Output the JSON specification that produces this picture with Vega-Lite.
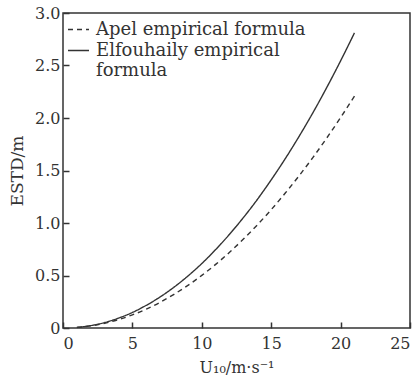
{
  "$schema": "https://vega.github.io/schema/vega-lite/v6.json",
  "width": 347,
  "height": 315,
  "autosize": {"type": "none"},
  "padding": {"left": 63, "top": 13, "right": 9, "bottom": 51},
  "background": "white",
  "config": {
    "font": "DejaVu Serif",
    "view": {"stroke": "#333", "strokeWidth": 1.5}
  },
  "data": {
    "values": [
      {"u": 1, "v": 0.005, "s": "Apel empirical formula"},
      {"u": 2, "v": 0.020, "s": "Apel empirical formula"},
      {"u": 3, "v": 0.045, "s": "Apel empirical formula"},
      {"u": 4, "v": 0.080, "s": "Apel empirical formula"},
      {"u": 5, "v": 0.125, "s": "Apel empirical formula"},
      {"u": 6, "v": 0.180, "s": "Apel empirical formula"},
      {"u": 7, "v": 0.245, "s": "Apel empirical formula"},
      {"u": 8, "v": 0.321, "s": "Apel empirical formula"},
      {"u": 9, "v": 0.406, "s": "Apel empirical formula"},
      {"u": 10, "v": 0.501, "s": "Apel empirical formula"},
      {"u": 11, "v": 0.606, "s": "Apel empirical formula"},
      {"u": 12, "v": 0.721, "s": "Apel empirical formula"},
      {"u": 13, "v": 0.847, "s": "Apel empirical formula"},
      {"u": 14, "v": 0.982, "s": "Apel empirical formula"},
      {"u": 15, "v": 1.127, "s": "Apel empirical formula"},
      {"u": 16, "v": 1.283, "s": "Apel empirical formula"},
      {"u": 17, "v": 1.448, "s": "Apel empirical formula"},
      {"u": 18, "v": 1.623, "s": "Apel empirical formula"},
      {"u": 19, "v": 1.809, "s": "Apel empirical formula"},
      {"u": 20, "v": 2.004, "s": "Apel empirical formula"},
      {"u": 21, "v": 2.209, "s": "Apel empirical formula"},
      {"u": 1, "v": 0.0055, "s": "Elfouhaily empirical formula"},
      {"u": 2, "v": 0.023, "s": "Elfouhaily empirical formula"},
      {"u": 3, "v": 0.052, "s": "Elfouhaily empirical formula"},
      {"u": 4, "v": 0.094, "s": "Elfouhaily empirical formula"},
      {"u": 5, "v": 0.148, "s": "Elfouhaily empirical formula"},
      {"u": 6, "v": 0.216, "s": "Elfouhaily empirical formula"},
      {"u": 7, "v": 0.296, "s": "Elfouhaily empirical formula"},
      {"u": 8, "v": 0.389, "s": "Elfouhaily empirical formula"},
      {"u": 9, "v": 0.495, "s": "Elfouhaily empirical formula"},
      {"u": 10, "v": 0.614, "s": "Elfouhaily empirical formula"},
      {"u": 11, "v": 0.747, "s": "Elfouhaily empirical formula"},
      {"u": 12, "v": 0.893, "s": "Elfouhaily empirical formula"},
      {"u": 13, "v": 1.052, "s": "Elfouhaily empirical formula"},
      {"u": 14, "v": 1.224, "s": "Elfouhaily empirical formula"},
      {"u": 15, "v": 1.411, "s": "Elfouhaily empirical formula"},
      {"u": 16, "v": 1.610, "s": "Elfouhaily empirical formula"},
      {"u": 17, "v": 1.823, "s": "Elfouhaily empirical formula"},
      {"u": 18, "v": 2.049, "s": "Elfouhaily empirical formula"},
      {"u": 19, "v": 2.290, "s": "Elfouhaily empirical formula"},
      {"u": 20, "v": 2.544, "s": "Elfouhaily empirical formula"},
      {"u": 21, "v": 2.811, "s": "Elfouhaily empirical formula"}
    ]
  },
  "mark": {"type": "line", "color": "#333", "strokeWidth": 1.4, "interpolate": "monotone"},
  "encoding": {
    "x": {
      "field": "u", "type": "quantitative",
      "scale": {"domain": [0, 25], "nice": false},
      "axis": {
        "values": [0, 5, 10, 15, 20, 25], "grid": false, "domain": false,
        "tickSize": -6, "tickColor": "#333", "tickWidth": 1.5,
        "labelFontSize": 16, "labelColor": "#333", "labelPadding": 13,
        "title": "U₁₀/m·s⁻¹", "titleFontSize": 16, "titleFontWeight": "normal",
        "titleColor": "#333", "titlePadding": 8
      }
    },
    "y": {
      "field": "v", "type": "quantitative",
      "scale": {"domain": [0, 3], "nice": false},
      "axis": {
        "values": [0, 0.5, 1, 1.5, 2, 2.5, 3], "grid": false, "domain": false,
        "tickSize": -6, "tickColor": "#333", "tickWidth": 1.5,
        "labelExpr": "datum.value == 0 ? '0' : format(datum.value, '.1f')",
        "labelFontSize": 16, "labelColor": "#333", "labelPadding": 9,
        "title": "ESTD/m", "titleFontSize": 17, "titleFontWeight": "normal",
        "titleColor": "#333", "titlePadding": 8
      }
    },
    "strokeDash": {
      "field": "s", "type": "nominal",
      "scale": {"domain": ["Apel empirical formula", "Elfouhaily empirical formula"], "range": [[5, 4], [1, 0]]},
      "legend": {
        "orient": "none", "legendX": 4, "legendY": 5, "title": null,
        "symbolType": "stroke", "symbolSize": 441, "symbolStrokeColor": "#333", "symbolStrokeWidth": 1.5,
        "labelFontSize": 18, "labelColor": "#333", "labelLimit": 400,
        "labelExpr": "datum.label == 'Elfouhaily empirical formula' ? ['Elfouhaily empirical', 'formula'] : datum.label",
        "rowPadding": 0, "labelOffset": 6
      }
    }
  }
}
